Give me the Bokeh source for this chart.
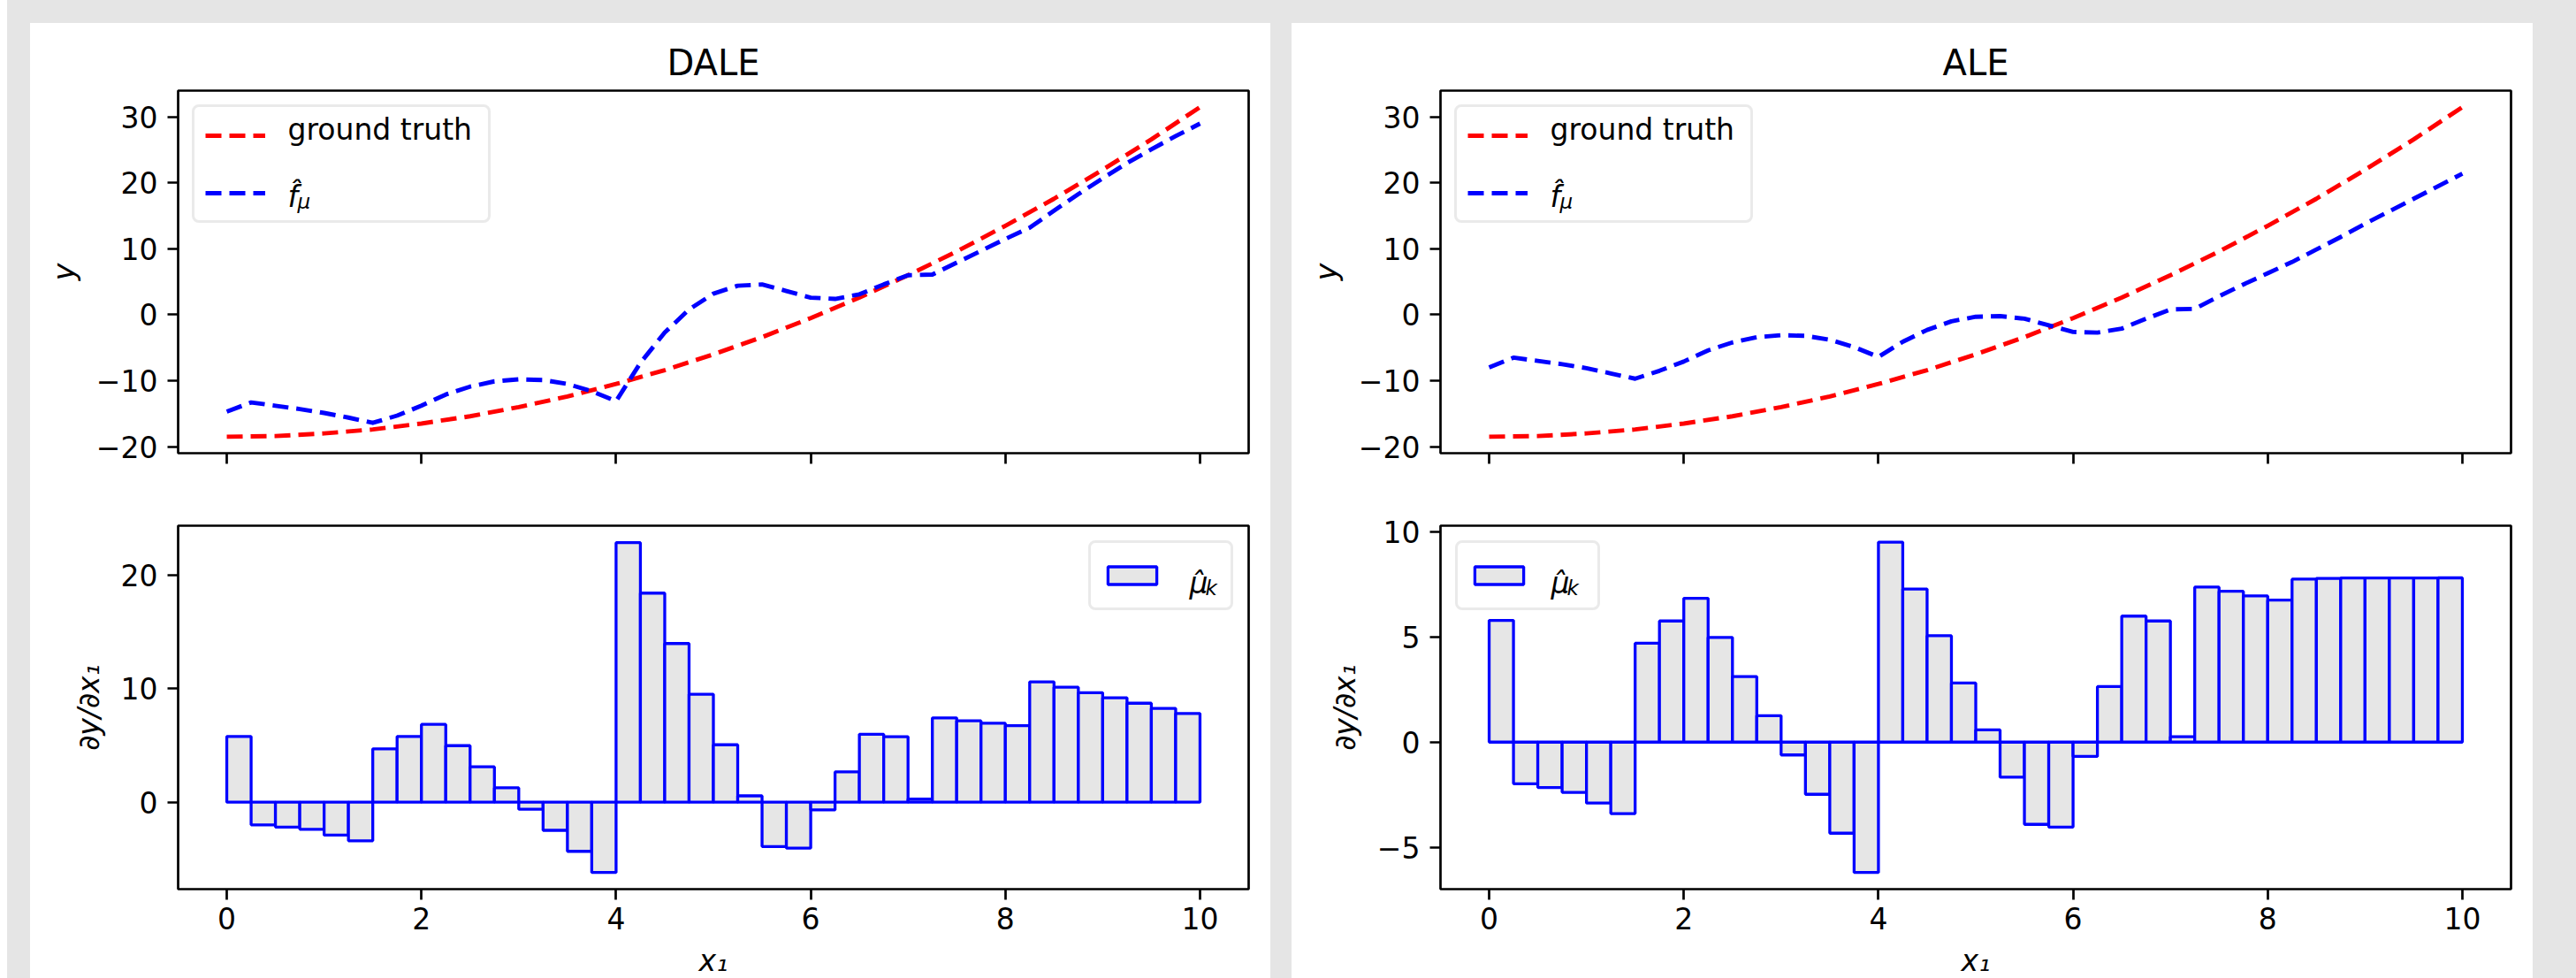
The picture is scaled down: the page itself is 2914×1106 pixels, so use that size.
import numpy as np
from bokeh.plotting import figure
from bokeh.models import (Range1d, FixedTicker, CustomJSTickFormatter, Legend,
                          LegendItem, Label, Spacer)
from bokeh.layouts import column, row
from bokeh.core.properties import value
from bokeh.embed import file_html
from bokeh.resources import INLINE

# ---------------- data ----------------
x_fine = np.linspace(0, 10, 41)          # evaluation grid of f_mu (step 0.25)
x_gt = np.linspace(0, 10, 21)            # evaluation grid of ground truth (step 0.5)
bin_edges = np.linspace(0, 10, 41)       # 40 bins of width 0.25

ground_truth = [-18.5, -18.4, -18.0, -17.4, -16.5, -15.4, -14.0, -12.4, -10.5, -8.4,
                -6.0, -3.4, -0.5, 2.6, 6.0, 9.6, 13.5, 17.6, 22.0, 26.6, 31.5]

dale_fmu = [-14.7, -13.3, -13.8, -14.3, -14.9, -15.6, -16.4, -15.3, -13.8, -12.1,
            -10.9, -10.1, -9.8, -9.9, -10.5, -11.6, -13.1, -7.3, -2.7, 0.8,
            3.2, 4.4, 4.6, 3.6, 2.6, 2.4, 3.1, 4.6, 6.0, 6.1,
            7.9, 9.7, 11.5, 13.2, 15.8, 18.3, 20.7, 23.0, 25.1, 27.1, 29.0]

ale_fmu = [-8.0, -6.5, -7.0, -7.5, -8.1, -8.9, -9.7, -8.5, -7.1, -5.4,
           -4.2, -3.4, -3.1, -3.2, -3.8, -4.9, -6.4, -4.1, -2.3, -1.0,
           -0.3, -0.2, -0.6, -1.6, -2.6, -2.7, -2.1, -0.6, 0.8, 0.9,
           2.8, 4.6, 6.3, 8.0, 9.9, 11.8, 13.8, 15.7, 17.6, 19.5, 21.4]

dale_bars = [5.79, -2.0, -2.19, -2.39, -2.9, -3.4, 4.7, 5.79, 6.86, 4.98,
             3.12, 1.27, -0.62, -2.48, -4.33, -6.19, 22.87, 18.42, 13.98, 9.51,
             5.06, 0.56, -3.91, -4.05, -0.68, 2.67, 5.99, 5.77, 0.28, 7.43,
             7.17, 6.95, 6.75, 10.6, 10.13, 9.65, 9.2, 8.72, 8.27, 7.82]

ale_bars = [5.79, -1.98, -2.16, -2.39, -2.9, -3.4, 4.7, 5.76, 6.84, 4.98,
            3.12, 1.26, -0.61, -2.48, -4.33, -6.2, 9.51, 7.28, 5.06, 2.81,
            0.58, -1.67, -3.91, -4.04, -0.68, 2.64, 5.99, 5.76, 0.26, 7.37,
            7.17, 6.95, 6.75, 7.75, 7.78, 7.8, 7.8, 7.8, 7.8, 7.81]

titles = ["DALE", "ALE"]
x_ticks = [0, 2, 4, 6, 8, 10]
top_yticks = [-20, -10, 0, 10, 20, 30]
dale_bar_yticks = [0, 10, 20]
ale_bar_yticks = [-5, 0, 5, 10]

# ---------------- style ----------------
FONT = "DejaVu Sans"
RED = "#ff0000"
BLUE = "#0000ff"
BAR_FILL = "#e6e6e6"
BG = "#e5e5e5"
FS = "33px"
SUB_FS = "23px"
LW = 4.9
DASH = "18 9"
FRAME_W = 1211

minus_fmt = CustomJSTickFormatter(
    code="return (tick < 0 ? '\\u2212' : '') + Math.abs(tick).toString();")


def style(p, yticks, ylabel, xlabel=None, show_xlabels=True):
    p.outline_line_color = "black"
    p.outline_line_width = 2.7
    p.xgrid.visible = False
    p.ygrid.visible = False
    for ax in (p.xaxis[0], p.yaxis[0]):
        ax.axis_line_color = None
        ax.major_tick_out = 12
        ax.major_tick_in = 0
        ax.major_tick_line_width = 2.7
        ax.major_tick_line_color = "black"
        ax.minor_tick_line_color = None
        ax.major_label_text_font = FONT
        ax.major_label_text_font_size = FS
        ax.major_label_text_color = "black"
        ax.major_label_standoff = 11
        ax.axis_label_text_font = FONT
        ax.axis_label_text_font_size = FS
        ax.axis_label_text_color = "black"
        ax.axis_label_text_font_style = "italic"
        ax.axis_label_standoff = 14
    p.xaxis.ticker = FixedTicker(ticks=x_ticks)
    p.yaxis.ticker = FixedTicker(ticks=yticks)
    p.yaxis.formatter = minus_fmt
    p.yaxis.axis_label = ylabel
    if xlabel:
        p.xaxis.axis_label = xlabel
        p.xaxis.axis_label_standoff = 13
        p.xaxis.major_label_standoff = 8
    if not show_xlabels:
        # shared x axis: tick marks only, labels not drawn
        p.xaxis.major_label_text_font_size = "1px"
        p.xaxis.major_label_text_color = None
        p.xaxis.major_label_standoff = 0


def add_text(p, text, x, y, size=FS, italic=False, baseline="alphabetic"):
    p.add_layout(Label(x=x, y=y, x_units="screen", y_units="screen", text=text,
                       text_font=FONT, text_font_size=size,
                       text_font_style="italic" if italic else "normal",
                       text_baseline=baseline, text_align="left", text_color="black",
                       level="overlay"))


def math_label(p, main, sub, x, y, dx):
    add_text(p, main, x, y, italic=True)
    add_text(p, sub, x + dx, y - 5, size=SUB_FS, italic=True)


def set_radius(leg, r):
    try:
        leg.border_radius = r
    except Exception:
        pass


def frame_legend(leg):
    leg.label_text_font = FONT
    leg.label_text_font_size = FS
    leg.label_text_color = None   # texts are drawn as overlay labels
    leg.border_line_color = "#d6d6d6"
    leg.border_line_width = 3
    leg.background_fill_color = "white"
    leg.background_fill_alpha = 0.0
    set_radius(leg, 8)


def make_top(title, fmu, left_border):
    p = figure(frame_width=FRAME_W, frame_height=410,
               min_border_left=left_border, min_border_right=25,
               min_border_top=76, min_border_bottom=40,
               x_range=Range1d(-0.5, 10.5), y_range=Range1d(-21, 34),
               output_backend="svg", toolbar_location=None, title=title)
    p.title.text_font = FONT
    p.title.text_font_size = "40px"
    p.title.text_font_style = "normal"
    p.title.text_color = "black"
    p.title.align = "center"
    p.title.standoff = 17
    style(p, top_yticks, "y", show_xlabels=False)
    gt = p.line(x_gt, ground_truth, line_color=RED, line_width=LW, line_dash=DASH,
                line_join="round")
    fm = p.line(x_fine, fmu, line_color=BLUE, line_width=LW, line_dash=DASH,
                line_join="round")
    leg = Legend(items=[LegendItem(label=value("ground truth"), renderers=[gt]),
                        LegendItem(label=value(" "), renderers=[fm])],
                 location="top_left")
    leg.margin = 16
    leg.padding = 12
    leg.spacing = 27
    leg.glyph_width = 68
    leg.glyph_height = 38
    leg.label_height = 38
    leg.label_width = 212
    leg.label_standoff = 28
    frame_legend(leg)
    p.add_layout(leg)
    row1 = 16 + 12 + 19
    row2 = row1 + 38 + 27
    add_text(p, "ground truth", 124, 410 - row1 + 3, baseline="middle")
    math_label(p, "f\u0302", "\u03bc", 124, 410 - (row2 + 8), 11)
    return p


def make_bottom(bars, yr, yticks, left_border, loc):
    p = figure(frame_width=FRAME_W, frame_height=411,
               min_border_left=left_border, min_border_right=25,
               min_border_top=42, min_border_bottom=101,
               x_range=Range1d(-0.5, 10.5), y_range=Range1d(*yr),
               output_backend="svg", toolbar_location=None)
    style(p, yticks, "\u2202y/\u2202x\u2081", xlabel="x\u2081")
    q = p.quad(left=bin_edges[:-1], right=bin_edges[1:], bottom=0, top=bars,
               fill_color=BAR_FILL, line_color=BLUE, line_width=3.3)
    leg = Legend(items=[LegendItem(label=value(" "), renderers=[q])], location=loc)
    leg.margin = 17
    leg.padding = 12
    leg.spacing = 0
    leg.glyph_width = 69
    leg.glyph_height = 25
    leg.label_height = 49
    leg.label_width = 38
    leg.label_standoff = 27
    frame_legend(leg)
    p.add_layout(leg)
    if loc == "top_right":
        lx = FRAME_W - 17 - 158 + 12 + 69 + 27
    else:
        lx = 17 + 12 + 69 + 27
    math_label(p, "\u03bc\u0302", "k", lx, 411 - 65, 18)
    return p


p1 = make_top(titles[0], dale_fmu, 167)
p2 = make_bottom(dale_bars, (-7.66, 24.36), dale_bar_yticks, 167, "top_right")
p3 = make_top(titles[1], ale_fmu, 168)
p4 = make_bottom(ale_bars, (-6.99, 10.29), ale_bar_yticks, 168, "top_left")

left_panel = column(p1, p2, spacing=0, styles={"background-color": "white"})
right_panel = column(p3, p4, spacing=0, styles={"background-color": "white"})
inner = row(Spacer(width=26, height=1080), left_panel, Spacer(width=24, height=1080),
            right_panel, Spacer(width=49, height=1080), spacing=0)
gray = column(Spacer(width=2906, height=26), inner, spacing=0,
              styles={"background-color": BG})
page = row(Spacer(width=8, height=1106), gray, spacing=0)

open("out.html", "w").write(file_html(page, INLINE, title="DALE vs ALE"))
